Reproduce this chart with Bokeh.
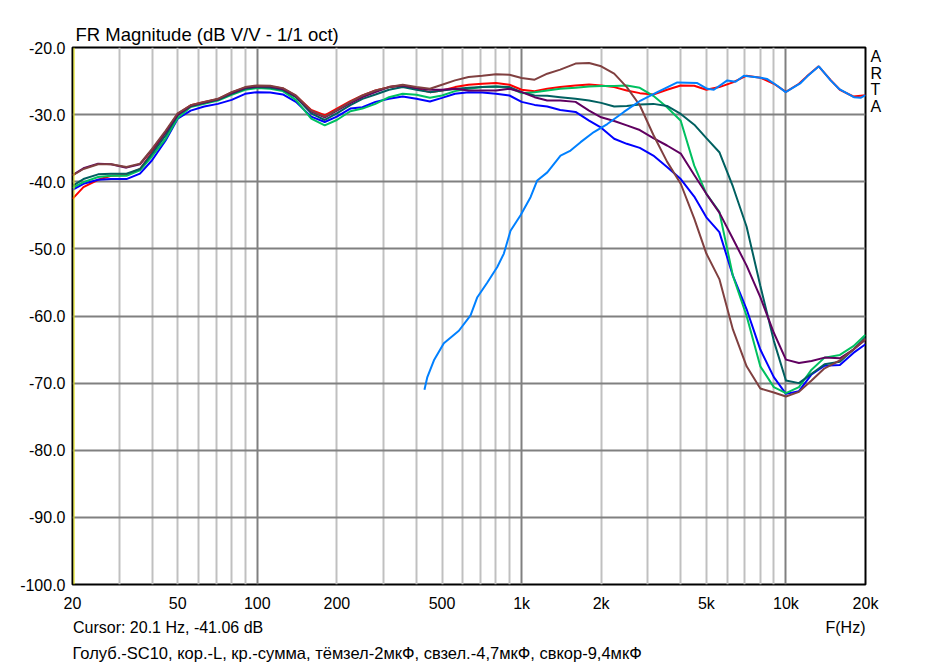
from bokeh.plotting import figure
from bokeh.models import (FixedTicker, Grid, Span, NumeralTickFormatter, LogAxis,
                          LinearAxis, Title)
from bokeh.embed import file_html
from bokeh.resources import INLINE

# ---------------- data ----------------
FREQ = [20, 22, 25, 28, 32, 36, 40, 45, 50, 56, 63, 71, 80, 90, 100, 112, 125, 140, 160, 180,
        200, 225, 250, 280, 315, 355, 400, 450, 500, 560, 630, 710, 800, 900, 1000, 1120, 1250,
        1400, 1600, 1800, 2000, 2240, 2500, 2800, 3150, 3550, 4000, 4500, 5000, 5600, 6300, 7100,
        8000, 9000, 10000, 11200, 12500, 14000, 16000, 18000, 20000]

BROWN = [-39.07, -38.1, -37.4, -37.4, -37.8, -37.3, -35.1, -32.4, -29.8, -28.6, -28.1, -27.65,
         -26.65, -25.9, -25.65, -25.7, -26.05, -27.15, -29.4, -30.3, -29.3, -28.1,
         -27.15, -26.4, -25.9, -25.55, -25.9, -26.15, -25.55, -24.9, -24.4, -24.2, -24.0, -24.05,
         -24.55, -24.8, -23.9, -23.3, -22.4, -22.3, -22.8, -23.9, -25.9, -28.6,
         -33.0, -37.0, -40.3, -45.5, -50.7, -54.5, -62.0, -67.5, -70.8, -71.4, -72.0, -71.3,
         -69.6, -67.8, -66.6, -65.0, -63.4]

PURPLE = [-39.0, -38.0, -37.3, -37.4, -37.9, -37.4, -35.2, -32.6, -30.0, -28.7, -28.2, -27.7,
          -26.8, -26.0, -25.8, -25.8, -26.2, -27.3, -29.5, -30.4, -29.4, -28.3,
          -27.4, -26.65, -25.9, -25.65, -26.05, -26.3, -26.3, -26.15, -26.4, -26.4, -26.4, -26.15,
          -26.65, -27.4, -27.9, -27.9, -28.1, -29.4, -30.4, -30.95, -31.6, -32.3,
          -33.5, -34.6, -35.8, -39.0, -41.8, -44.6, -48.5, -52.5, -57.2, -62.5, -66.5, -67.0,
          -66.7, -66.2, -66.3, -65.0, -63.5]

TEAL = [-40.6, -39.6, -38.9, -38.8, -38.8, -38.1, -35.8, -33.1, -30.1, -28.75, -28.25, -27.8,
        -26.9, -26.15, -25.9, -26.0, -26.3, -27.4, -29.8, -30.8, -29.8, -28.6,
        -27.65, -27.0, -26.3, -25.9, -26.3, -26.65, -26.4, -26.2, -26.0, -25.9, -25.8, -25.9,
        -26.65, -27.15, -27.2, -27.4, -27.65, -27.9, -28.25, -28.8, -28.7, -28.5,
        -28.4, -28.7, -29.9, -31.5, -33.5, -35.6, -40.7, -46.7, -55.5, -63.7, -69.6, -70.0,
        -68.6, -67.2, -66.8, -65.0, -63.2]

GREEN = [-40.9, -40.05, -39.3, -39.1, -39.1, -38.3, -36.2, -33.6, -30.5, -28.85, -28.4, -27.9,
         -27.05, -26.3, -26.05, -26.15, -26.5, -27.8, -30.6, -31.6, -30.8, -29.5,
         -29.1, -28.4, -27.4, -26.9, -27.05, -27.5, -27.15, -26.5, -26.15, -25.9, -25.8, -26.0,
         -26.8, -26.65, -26.4, -26.15, -26.0, -25.8, -25.75, -25.75, -25.65, -26.0,
         -27.2, -28.9, -30.9, -37.6, -41.8, -44.5, -54.0, -60.0, -67.5, -70.6, -71.5, -70.6,
         -68.0, -66.2, -65.8, -64.5, -62.8]

BLUE = [-41.2, -40.3, -39.7, -39.6, -39.6, -38.8, -36.8, -33.85, -30.6, -29.4, -28.8, -28.4,
        -27.8, -26.9, -26.65, -26.7, -27.0, -28.1, -30.3, -31.1, -30.3, -29.1,
        -28.9, -28.1, -27.65, -27.3, -27.65, -28.05, -27.5, -26.9, -26.65, -26.7, -26.9, -27.15,
        -28.1, -28.55, -28.8, -29.3, -29.6, -30.9, -31.95, -33.6, -34.35, -34.95,
        -36.1, -37.8, -39.6, -42.2, -45.3, -47.5, -54.0, -59.0, -65.0, -69.1, -71.6, -71.2,
        -68.7, -67.4, -67.3, -65.5, -64.2]

RED_FREQ = [20, 22, 25, 28, 32, 36, 40, 45, 50, 56, 63, 71, 80, 90, 100, 112, 125, 140, 160, 180,
            200, 225, 250, 280, 315, 355, 400, 450, 500, 560, 630, 710, 800, 900, 1000, 1120, 1250,
            1400, 1600, 1800, 2000, 2240, 2500, 2800, 3150, 3550, 4000, 4500, 5000, 5600, 6300,
            7100, 8000, 9000, 10000, 11200, 12000, 13300, 14800, 16000, 18000, 20000]
RED = [-42.55, -40.8, -39.7, -39.1, -39.0, -38.1, -35.6, -32.6, -29.9, -28.6, -28.1, -27.7,
       -26.7, -26.0, -25.75, -25.8, -26.1, -27.2, -29.3, -30.1, -29.1, -28.0,
       -27.15, -26.4, -25.9, -25.65, -26.15, -26.65, -26.4, -25.9, -25.55, -25.4, -25.3, -25.55,
       -26.3, -26.5, -26.15, -25.9, -25.65, -25.5, -25.65, -25.9, -26.4, -26.8,
       -27.0, -26.3, -25.65, -25.7, -26.3, -25.9, -25.2, -24.2, -24.5, -25.4, -26.6, -25.4,
       -24.3, -22.8, -24.9, -26.3, -27.3, -27.1]

SC10_FREQ = [429, 440, 466, 508, 579, 641, 680, 742, 809, 857, 908, 991, 1081, 1146, 1251, 1404,
             1532, 1672, 1877, 2110, 2438, 2820, 3262, 3882, 4620, 5040, 5338, 6000, 6450, 6935,
             8022, 8502, 9277, 9972, 11364, 12046, 13326, 14758, 15864, 18078, 19166, 20000]
SC10 = [-71.0, -69.1, -66.6, -64.05, -62.2, -59.9, -57.2, -55.0, -52.7, -50.7, -47.3, -45.0,
        -42.3, -39.8, -38.6, -36.1, -35.35, -34.1, -32.6, -31.4, -29.6, -27.9, -26.65, -25.2,
        -25.3, -26.15, -26.3, -24.9, -25.1, -24.2, -24.5, -24.7, -25.7, -26.65, -25.3, -24.3,
        -22.8, -24.9, -26.15, -27.4, -27.5, -27.1]

X_TICKS = [20, 50, 100, 200, 500, 1000, 2000, 5000, 10000, 20000]
X_LABELS = ["20", "50", "100", "200", "500", "1k", "2k", "5k", "10k", "20k"]
X_MINOR = [30, 40, 50, 60, 70, 80, 90, 200, 300, 400, 500, 600, 700, 800, 900,
           2000, 3000, 4000, 5000, 6000, 7000, 8000, 9000]
X_MAJOR = [100, 1000, 10000]
Y_TICKS = [-100, -90, -80, -70, -60, -50, -40, -30, -20]
Y_GRID = [-90, -80, -70, -60, -50, -40, -30]

TITLE = "FR Magnitude (dB V/V - 1/1 oct)"
CURSOR = "Cursor: 20.1 Hz, -41.06 dB"
XLABEL = "F(Hz)"
LEGEND = "Голуб.-SC10, кор.-L, кр.-сумма, тёмзел-2мкФ, свзел.-4,7мкФ, свкор-9,4мкФ"
BRAND = ["A", "R", "T", "A"]

# text anchor positions (layout only): x in Hz on the log axis, y in dB on the right axis
CURSOR_AT = 46
XLABEL_AT = 16800
BRAND_AT = [-21.3, -23.8, -26.3, -28.8]

FONT = "Liberation Sans"

# ---------------- figure ----------------
p = figure(width=937, height=664, x_axis_type="log", x_range=(20, 20000), y_range=(-100, -20),
           output_backend="svg", toolbar_location=None,
           min_border_left=72, min_border_right=72, min_border_top=47, min_border_bottom=80)
p.background_fill_color = "white"
p.border_fill_color = "white"
p.outline_line_color = "black"
p.outline_line_width = 2

p.title.text = TITLE
p.title.align = "left"
p.title.offset = 3
p.title.standoff = 5
p.title.text_font = FONT
p.title.text_font_size = "18.5px"
p.title.text_font_style = "normal"
p.title.text_color = "black"


def style_axis(ax, standoff):
    ax.axis_line_color = None
    ax.major_tick_line_color = None
    ax.minor_tick_line_color = None
    ax.major_tick_out = 0
    ax.major_tick_in = 0
    ax.minor_tick_out = 0
    ax.minor_tick_in = 0
    ax.major_label_text_font = FONT
    ax.major_label_text_font_size = "16px"
    ax.major_label_text_color = "black"
    ax.major_label_standoff = standoff


# axes
p.xaxis.ticker = FixedTicker(ticks=X_TICKS)
p.xaxis.major_label_overrides = {t: l for t, l in zip(X_TICKS, X_LABELS)}
p.yaxis.ticker = FixedTicker(ticks=Y_TICKS)
p.yaxis.formatter = NumeralTickFormatter(format="0.0")
style_axis(p.xaxis[0], 10)
style_axis(p.yaxis[0], 7)

# cursor / F(Hz) row
cur_axis = LogAxis(ticker=FixedTicker(ticks=[CURSOR_AT, XLABEL_AT]),
                   major_label_overrides={CURSOR_AT: CURSOR, XLABEL_AT: XLABEL})
style_axis(cur_axis, 4)
p.add_layout(cur_axis, "below")

# legend row
p.add_layout(Title(text=LEGEND, align="left", offset=0, standoff=6, text_font=FONT,
                   text_font_size="16.5px", text_font_style="normal", text_color="black"),
             "below")

# ARTA letters on the right
brand_axis = LinearAxis(ticker=FixedTicker(ticks=BRAND_AT),
                        major_label_overrides={t: c for t, c in zip(BRAND_AT, BRAND)})
style_axis(brand_axis, 5)
p.add_layout(brand_axis, "right")

# grids
p.xgrid.ticker = FixedTicker(ticks=X_MINOR)
p.xgrid.grid_line_color = "#C0C0C0"
p.xgrid.grid_line_width = 2
p.add_layout(Grid(dimension=0, ticker=FixedTicker(ticks=X_MAJOR),
                  grid_line_color="#808080", grid_line_width=2))
p.ygrid.ticker = FixedTicker(ticks=Y_GRID)
p.ygrid.grid_line_color = "#808080"
p.ygrid.grid_line_width = 2

p.add_layout(Span(location=20.27, dimension="height", line_color="#E0E000", line_width=1))

# curves
p.line(RED_FREQ, RED, line_color="#FF0000", line_width=2)
p.line(FREQ, BLUE, line_color="#0000FF", line_width=2)
p.line(FREQ, GREEN, line_color="#00C060", line_width=2)
p.line(FREQ, TEAL, line_color="#006060", line_width=2)
p.line(FREQ, PURPLE, line_color="#600060", line_width=2)
p.line(FREQ, BROWN, line_color="#804040", line_width=2)
p.line(SC10_FREQ, SC10, line_color="#0080FF", line_width=2)

open("out.html", "w").write(file_html(p, INLINE))
